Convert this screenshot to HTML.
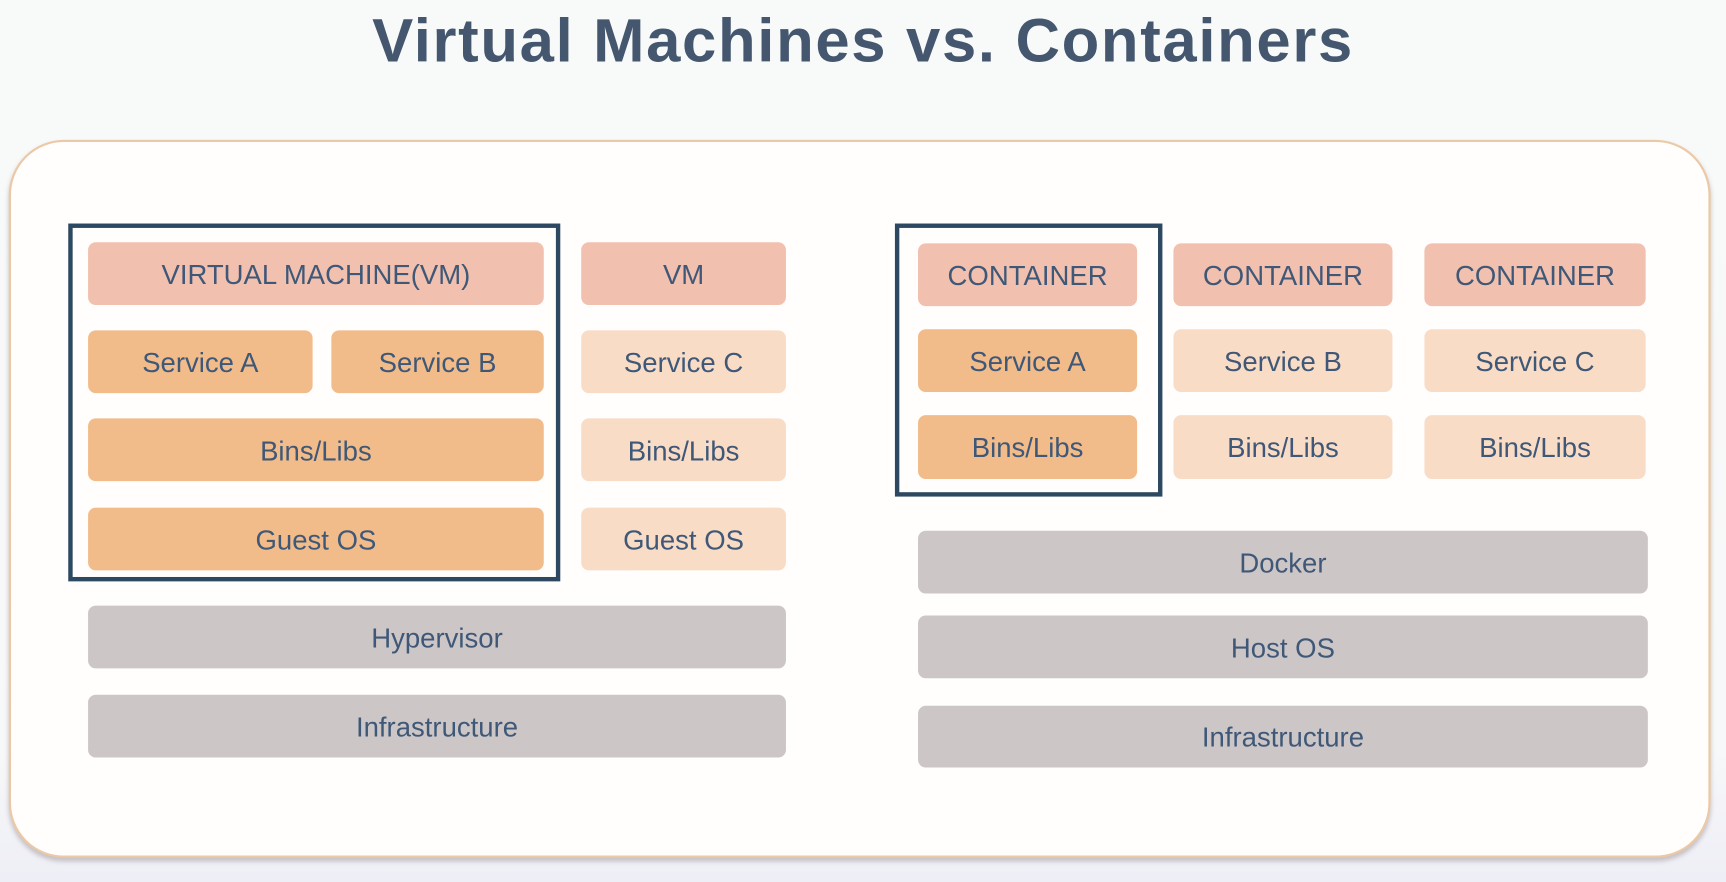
<!DOCTYPE html>
<html><head><meta charset="utf-8"><style>
html,body{margin:0;padding:0;}
body{width:1726px;height:882px;overflow:hidden;background:#f6f6f9;font-family:"Liberation Sans",sans-serif;}
#w{position:absolute;left:0;top:0;width:1568px;height:801px;transform:scale(1.10077,1.1011);transform-origin:0 0;background:linear-gradient(#f8f9f9,#f7f8f9 85%,#eeeef6);}
.t{position:absolute;left:0;width:1568px;top:4px;text-align:center;font-size:56px;font-weight:bold;color:#44576f;letter-spacing:1.5px;}
.panel{position:absolute;left:8px;top:127px;width:1542px;height:648px;background:#fffefd;border:2px solid #ecc9a6;border-radius:50px;box-shadow:0 3px 4px rgba(120,110,110,0.35);}
.b{position:absolute;border-radius:7px;display:flex;align-items:center;justify-content:center;font-size:25px;color:#3f5878;padding-top:3px;box-sizing:border-box;}
.s{background:#f2c0ae;}
.o{background:#f2bc8a;}
.l{background:#f9dcc6;}
.g{background:#cdc6c6;}
.ol{position:absolute;border:4px solid #2c4961;box-sizing:border-box;}
</style></head><body><div id="w">
<div class="t">Virtual Machines vs. Containers</div>
<div class="panel"></div>
<div class="ol" style="left:62px;top:203px;width:447px;height:325px"></div>
<div class="b s" style="left:80px;top:220px;width:414px;height:57px">VIRTUAL MACHINE(VM)</div>
<div class="b s" style="left:528px;top:220px;width:186px;height:57px">VM</div>
<div class="b o" style="left:80px;top:300px;width:204px;height:57px">Service A</div>
<div class="b o" style="left:301px;top:300px;width:193px;height:57px">Service B</div>
<div class="b l" style="left:528px;top:300px;width:186px;height:57px">Service C</div>
<div class="b o" style="left:80px;top:380px;width:414px;height:57px">Bins/Libs</div>
<div class="b l" style="left:528px;top:380px;width:186px;height:57px">Bins/Libs</div>
<div class="b o" style="left:80px;top:461px;width:414px;height:57px">Guest OS</div>
<div class="b l" style="left:528px;top:461px;width:186px;height:57px">Guest OS</div>
<div class="b g" style="left:80px;top:550px;width:634px;height:57px">Hypervisor</div>
<div class="b g" style="left:80px;top:631px;width:634px;height:57px">Infrastructure</div>

<div class="ol" style="left:813px;top:203px;width:243px;height:248px"></div>
<div class="b s" style="left:834px;top:221px;width:199px;height:57px">CONTAINER</div>
<div class="b s" style="left:1066px;top:221px;width:199px;height:57px">CONTAINER</div>
<div class="b s" style="left:1294px;top:221px;width:201px;height:57px">CONTAINER</div>
<div class="b o" style="left:834px;top:299px;width:199px;height:57px">Service A</div>
<div class="b l" style="left:1066px;top:299px;width:199px;height:57px">Service B</div>
<div class="b l" style="left:1294px;top:299px;width:201px;height:57px">Service C</div>
<div class="b o" style="left:834px;top:377px;width:199px;height:58px">Bins/Libs</div>
<div class="b l" style="left:1066px;top:377px;width:199px;height:58px">Bins/Libs</div>
<div class="b l" style="left:1294px;top:377px;width:201px;height:58px">Bins/Libs</div>
<div class="b g" style="left:834px;top:482px;width:663px;height:57px">Docker</div>
<div class="b g" style="left:834px;top:559px;width:663px;height:57px">Host OS</div>
<div class="b g" style="left:834px;top:641px;width:663px;height:56px">Infrastructure</div>
</div></body></html>
